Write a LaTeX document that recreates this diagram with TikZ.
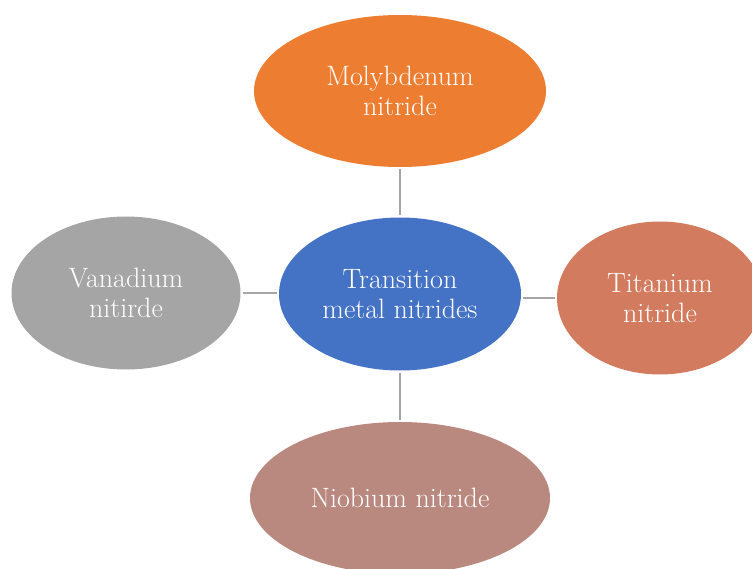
\documentclass[tikz,border=0pt]{standalone}
\usepackage{tikz}
\usetikzlibrary{shapes.geometric}
\definecolor{moOrange}{HTML}{ED7D31}
\definecolor{tmBlue}{HTML}{4472C4}
\definecolor{vGray}{HTML}{A5A5A5}
\definecolor{tiRed}{HTML}{D27B5E}
\definecolor{nbRose}{HTML}{B9897F}
\definecolor{linkGray}{HTML}{A5A5A5}

\begin{document}
\begin{tikzpicture}[x=1pt, y=-1pt]
  \tikzset{bubble/.style={ellipse, inner sep=0pt, align=center, text=white,
      font=\fontsize{28}{30}\selectfont},
    link/.style={draw=linkGray, line width=2.5pt, shorten <=2pt, shorten >=2pt}}
  \useasboundingbox (0,0) rectangle (752,569);
  \begin{scope}
  \clip (0,0) rectangle (752,569);
  \node[bubble, fill=tmBlue, minimum width=242pt, minimum height=153pt] (TMN) at (400,294) {Transition\\metal nitrides};
  \node[bubble, fill=moOrange, minimum width=292pt, minimum height=152pt] (Mo) at (400,91) {Molybdenum\\nitride};
  \node[bubble, fill=vGray, minimum width=229pt, minimum height=153pt] (V) at (126,293) {Vanadium\\nitirde};
  \node[bubble, fill=tiRed, minimum width=206pt, minimum height=153pt] (Ti) at (660,298) {Titanium\\nitride};
  \node[bubble, fill=nbRose, minimum width=300pt, minimum height=152pt] (Nb) at (400,498) {Niobium nitride};
  \draw[link] (Mo) -- (TMN);
  \draw[link] (V.east) -- (V.east -| TMN.west);
  \draw[link] (Ti.west -| TMN.east) -- (Ti.west);
  \draw[link] (TMN) -- (Nb);
  \end{scope}
\end{tikzpicture}
\end{document}
